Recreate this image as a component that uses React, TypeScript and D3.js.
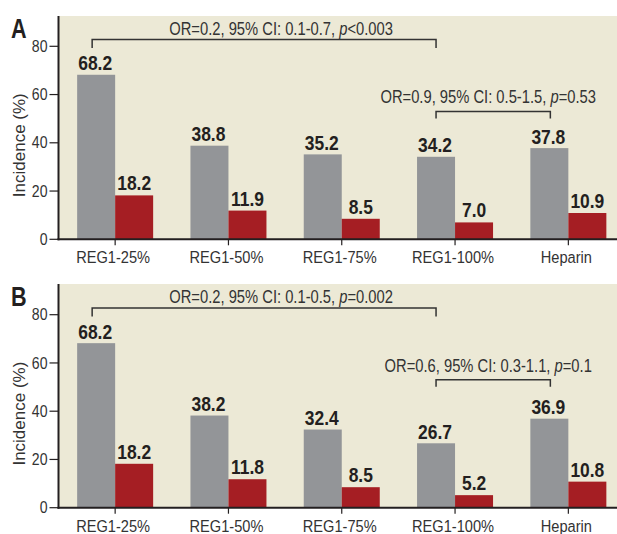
import React from "react";
import * as d3 from "d3";

const categories = ["REG1-25%", "REG1-50%", "REG1-75%", "REG1-100%", "Heparin"];
const panelAGray = [68.2, 38.8, 35.2, 34.2, 37.8];
const panelARed = [18.2, 11.9, 8.5, 7.0, 10.9];
const panelBGray = [68.2, 38.2, 32.4, 26.7, 36.9];
const panelBRed = [18.2, 11.8, 8.5, 5.2, 10.8];
const yTicks = [0, 20, 40, 60, 80];
const annotA = [
  { pre: "OR=0.2, 95% CI: 0.1-0.7, ", post: "<0.003" },
  { pre: "OR=0.9, 95% CI: 0.5-1.5, ", post: "=0.53" },
];
const annotB = [
  { pre: "OR=0.2, 95% CI: 0.1-0.5, ", post: "=0.002" },
  { pre: "OR=0.6, 95% CI: 0.3-1.1, ", post: "=0.1" },
];

const W = 617;
const H = 534;
const REG = "'Liberation Sans', Arial, sans-serif";
const BG = "#ECE9D6";
const GRAY = "#939598";
const RED = "#A51E23";
const INK = "#231F20";
const NARROW_SX = 0.82;

const axisX = 58.5;
const x = d3.scaleBand<string>().domain(categories).range([axisX, axisX + 5 * 113.3]).padding(0);
const barW = 38;
const center = (c: string) => (x(c) as number) + x.bandwidth() / 2;

type Annot = { pre: string; post: string };

function NText({ x, y, anchor = "start", size, bold = false, fill = INK, sx = NARROW_SX, children }: any) {
  return (
    <text
      transform={`translate(${x},${y}) scale(${sx},1)`}
      textAnchor={anchor}
      fontFamily={REG}
      fontWeight={bold ? "bold" : "normal"}
      fontSize={size}
      fill={fill}
    >
      {children}
    </text>
  );
}

function Panel({ label, gray, red, top, y0, annots }: { label: string; gray: number[]; red: number[]; top: number; y0: number; annots: Annot[] }) {
  const y = d3.scaleLinear().domain([0, 80]).range([y0, y0 - 193]);
  const gc = (i: number) => center(categories[i]) - barW / 2;
  const b1y = y(82.8);
  const b2y = y(53);
  const b1l = gc(0) - 4;
  const b1r = gc(3);
  const b2l = gc(3);
  const b2r = gc(4) + 1;
  return (
    <g>
      <rect x={axisX} y={top} width={W - axisX} height={y0 - top} fill={BG} />
      {categories.map((c, i) => (
        <g key={c}>
          <rect x={center(c) - barW} y={y(gray[i])} width={barW} height={y0 - y(gray[i])} fill={GRAY} />
          <rect x={center(c)} y={y(red[i])} width={barW} height={y0 - y(red[i])} fill={RED} />
          <NText x={center(c) - barW / 2 - 1} y={y(gray[i]) - 4.5} anchor="middle" size={21} sx={0.83} bold>{gray[i].toFixed(1)}</NText>
          <NText x={center(c) + barW / 2} y={y(red[i]) - 5} anchor="middle" size={21} sx={0.83} bold>{red[i].toFixed(1)}</NText>
          <line x1={center(c)} x2={center(c)} y1={y0} y2={y0 + 6} stroke={INK} strokeWidth={1.2} />
          <NText x={center(c) - 2} y={y0 + 24} anchor="middle" size={17} sx={0.86} fill="#333">{c}</NText>
        </g>
      ))}
      <line x1={axisX} x2={axisX} y1={top} y2={y0 + 1} stroke={INK} strokeWidth={2} />
      <line x1={axisX - 1} x2={W} y1={y0} y2={y0} stroke={INK} strokeWidth={2} />
      {yTicks.map((t) => (
        <g key={t}>
          <line x1={axisX - 9} x2={axisX} y1={y(t)} y2={y(t)} stroke={INK} strokeWidth={1.2} />
          <NText x={axisX - 11} y={y(t) + 5.6} anchor="end" size={16} sx={0.88} fill="#333">{t}</NText>
        </g>
      ))}
      <text transform={`translate(${25},${y(39)}) rotate(-90)`} textAnchor="middle" fontFamily={REG} fontSize={17} fill="#333">Incidence (%)</text>
      <NText x={11} y={top + 22} size={27} sx={0.8} bold>{label}</NText>
      <path d={`M${b1l},${b1y + 8.5}V${b1y}H${b1r}V${b1y + 8.5}`} fill="none" stroke="#333" strokeWidth={1.5} />
      <path d={`M${b2l},${b2y + 7}V${b2y}H${b2r}V${b2y + 7}`} fill="none" stroke="#333" strokeWidth={1.5} />
      <NText x={(center(categories[1]) + center(categories[2])) / 2 - 4} y={b1y - 4.5} anchor="middle" size={18} fill="#333">
        {annots[0].pre}<tspan fontStyle="italic">p</tspan>{annots[0].post}
      </NText>
      <NText x={(b2l + b2r) / 2 - 5} y={b2y - 8} anchor="middle" size={18} fill="#333">
        {annots[1].pre}<tspan fontStyle="italic">p</tspan>{annots[1].post}
      </NText>
    </g>
  );
}

export default function App() {
  return (
    <svg width={W} height={H} style={{ position: "absolute", left: 0, top: 0, background: "#fff" }}>
      <Panel label="A" gray={panelAGray} red={panelARed} top={16} y0={239.3} annots={annotA} />
      <Panel label="B" gray={panelBGray} red={panelBRed} top={284} y0={507.7} annots={annotB} />
    </svg>
  );
}
